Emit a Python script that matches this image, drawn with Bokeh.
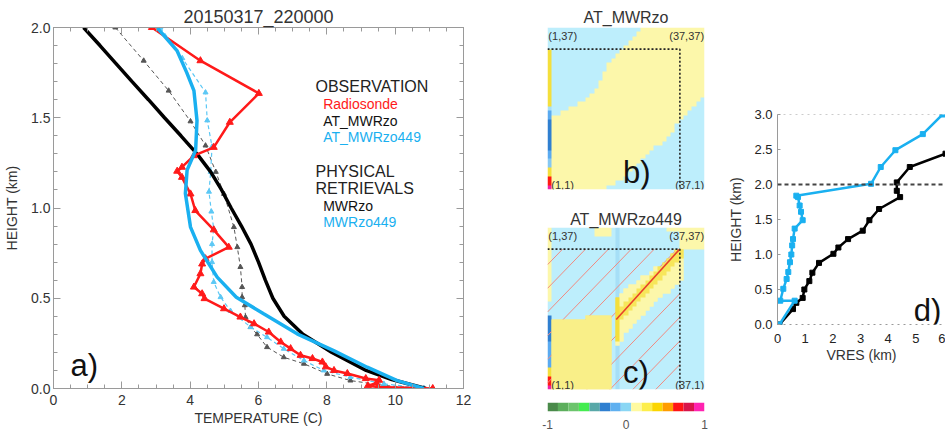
import numpy as np
from bokeh.plotting import figure
from bokeh.layouts import row, column
from bokeh.models import (Range1d, LinearAxis, SingleIntervalTicker, NumeralTickFormatter, FixedTicker,
                          Label, Span, LinearColorMapper)
from bokeh.embed import file_html
from bokeh.resources import INLINE

FONT = "Liberation Sans"

# ---------------- panel a data (temperature profiles) ----------------
radiosonde_h = [2.00, 1.816, 1.635, 1.475, 1.336, 1.29, 1.226, 1.204, 1.17, 1.078, 0.986, 0.879, 0.783,
                0.719, 0.69, 0.636, 0.562, 0.525, 0.498, 0.442, 0.396, 0.359, 0.313, 0.258, 0.221, 0.184,
                0.166, 0.147, 0.12, 0.10, 0.083, 0.055, 0.046, 0.03, 0.015, 0.008, 0.0]
radiosonde_t = [2.88, 4.30, 6.01, 5.16, 4.69, 4.11, 3.76, 3.62, 3.76, 4.01, 4.15, 4.69, 5.13,
                4.45, 4.35, 4.30, 4.11, 4.35, 4.42, 4.99, 5.47, 5.87, 6.30, 6.65, 6.94, 7.23,
                7.58, 7.87, 7.97, 8.21, 8.60, 9.14, 9.53, 9.45, 9.20, 9.50, 11.1]

mwrzo_h = [2.0, 1.9, 1.8, 1.7, 1.6, 1.5, 1.4, 1.3, 1.2, 1.1, 1.0, 0.9, 0.8, 0.7, 0.6, 0.5, 0.4, 0.3,
           0.2, 0.1, 0.05, 0.0]
mwrzo_t = [0.88, 1.36, 1.83, 2.30, 2.78, 3.25, 3.73, 4.20, 4.60, 4.92, 5.20, 5.50, 5.78, 6.00, 6.20,
           6.42, 6.75, 7.30, 8.15, 9.15, 9.90, 10.90]

mwrzo449_h = [2.0, 1.87, 1.75, 1.65, 1.485, 1.32, 1.21, 1.08, 0.894, 0.765, 0.617, 0.506, 0.414, 0.303,
              0.21, 0.118, 0.044, 0.0]
mwrzo449_t = [3.03, 3.62, 3.90, 4.11, 4.20, 4.16, 3.91, 3.86, 4.01, 4.30, 4.79, 5.35, 6.15, 7.13,
              8.20, 9.18, 10.06, 10.84]

at_mwrzo_h = [2.0, 1.816, 1.65, 1.48, 1.346, 1.2, 1.078, 0.894, 0.783, 0.673, 0.562, 0.506, 0.461,
              0.395, 0.34, 0.30, 0.229, 0.173, 0.137, 0.081, 0.044, 0.017, 0.0]
at_mwrzo_t = [1.81, 2.64, 3.37, 4.01, 4.45, 4.75, 4.99, 5.28, 5.38, 5.47, 5.52, 5.52, 5.60, 5.62,
              5.77, 5.96, 6.25, 6.74, 7.33, 8.01, 8.69, 9.67, 10.84]

at_mwrzo449_h = [2.0, 1.83, 1.64, 1.485, 1.34, 1.2, 1.09, 0.98, 0.885, 0.80, 0.70, 0.59, 0.506, 0.43,
                 0.34, 0.284, 0.22, 0.155, 0.10, 0.063, 0.026, 0.0]
at_mwrzo449_t = [3.13, 3.77, 4.45, 4.50, 4.64, 4.60, 4.55, 4.62, 4.69, 4.64, 4.64, 4.69, 4.89, 5.18,
                 5.77, 6.25, 6.74, 7.33, 7.91, 8.69, 9.67, 10.84]

# ---------------- panel b / c data (37x37 correlation matrices) ----------------
strip_b = [0.95, 0.65, 0.65, 0.3, 0.3, -0.1, -0.1, -0.15, -0.15, -0.3, -0.3, -0.3, -0.3, -0.3, -0.3,
           -0.3, -0.15, -0.15, -0.05, 0.3, 0.3, 0.3, 0.3, 0.3, 0.3, 0.3, 0.3, 0.3, 0.3, 0.3, 0.3, 0.3,
           0.03, 0.03, 0.03, 0.03, 0.03]
band_lo_b = [0, 0, 0, 0, 0, 0, 0, 0, 0, 0, 0, 0, 0, 0, 1, 1, 2, 2, 3, 4, 5, 6, 7, 8, 9, 10, 10, 11,
             12, 13, 15, 16, 17, 18, 19, 20, 21]
band_hi_b = [0, 17, 17, 18, 18, 19, 19, 20, 20, 21, 22, 23, 25, 27, 29, 30, 31, 32, 33, 34, 35, 36,
             37, 37, 37, 37, 37, 37, 37, 37, 37, 37, 37, 37, 37, 37, 37]

strip_c = [0.95, 0.65, 0.65, 0.3, 0.3, -0.15, -0.15, -0.15, -0.15, -0.15, -0.15, -0.3, -0.3, -0.3,
           -0.3, -0.3, -0.3, 0.03, 0.03, 0.03, 0.1, 0.1, 0.1, 0.1, 0.1, 0.1, 0.1, 0.1, 0.1, 0.1, 0.1,
           0.1, 0.1, 0.1, 0.1, 0.1, 0.1]
yel_lo_c = [0, 0, 0, 0, 0, 0, 0, 0, 0, 0, 0, 0, 0, 0, 0, 0, 10, 11, 13, 14, 15, 16, 17, 18, 19, 20,
            21, 22, 22, 23, 24, 25, 0, 0, 0, 0, 0]
yel_hi_c = [0, 16, 16, 16, 16, 16, 16, 16, 16, 17, 17, 17, 17, 17, 17, 0, 21, 22, 23, 24, 24, 25,
            26, 26, 27, 28, 28, 29, 30, 31, 32, 32, 0, 0, 0, 0, 0]
core_lo_c = [0] * 17 + [16, 17, 18, 19, 20, 21, 22, 23, 24, 25, 26, 27, 28, 29, 30] + [0] * 5
core_hi_c = [0] * 17 + [19, 20, 21, 22, 23, 24, 25, 26, 27, 28, 29, 30, 31, 32, 32] + [0] * 5
darker_col_c = (16, 17, 0, 37, -0.03)
top_bits_c = [(11, 15, 35, 37, 0.1), (28, 37, 36, 37, 0.1), (31, 37, 32, 36, 0.1)]
orange_col_c = (16, 17, 11, 21, 0.3)
diag_x = [16.2, 31.1]
diag_y = [16.0, 32.0]
bg_value = 0.03
band_value = 0.1
block_value = 0.17
core_value = 0.25
box_x = 31.2
box_y = 32.05

bar_palette = ["#4a8a4a", "#5cae5c", "#6cc46c", "#44ec50", "#58a8a8", "#2f7fd0", "#5fb0f0",
               "#8ad6f4", "#fffaa0", "#fdee4c", "#fbd500", "#ff9c00", "#ff1414", "#d8144a", "#ff22b0"]
heat_palette = ["#4a8a4a", "#4a8a4a", "#5cae5c", "#5cae5c", "#6cc46c", "#6cc46c", "#44ec50", "#44ec50",
                "#58a8a8", "#58a8a8", "#2f7fd0", "#2f7fd0", "#5aaaf0", "#86c8f2", "#a6dff7", "#bdeefc",
                "#fcf7aa", "#f9ef88", "#f7e65a", "#f4df3c", "#f2c800", "#f2c800", "#ff9a00", "#ff9a00",
                "#ff1a10", "#ff1a10", "#d8144a", "#d8144a", "#f020a8", "#f020a8"]
bar_ticks = [0, 7.5, 15]
bar_labels = ["-1", "0", "1"]

# ---------------- panel d data (vertical resolution) ----------------
vres_blue_x = [0.07, 0.62, 0.10, 0.21, 0.33, 0.39, 0.45, 0.50, 0.53, 0.56, 0.62, 0.91, 0.85, 0.80,
               0.74, 0.68, 3.38, 3.73, 4.26, 5.25, 5.96]
vres_blue_h = [0.00, 0.34, 0.34, 0.51, 0.65, 0.75, 0.89, 1.00, 1.13, 1.22, 1.37, 1.49, 1.61, 1.70,
               1.82, 1.84, 2.01, 2.25, 2.49, 2.72, 3.00]
vres_black_x = [0.07, 0.56, 0.68, 0.91, 0.97, 1.15, 1.26, 1.50, 2.02, 2.20, 2.55, 3.08, 3.32, 3.67,
                4.43, 4.31, 4.31, 4.78, 6.07]
vres_black_h = [0.00, 0.22, 0.31, 0.38, 0.50, 0.62, 0.74, 0.88, 1.01, 1.10, 1.22, 1.34, 1.49, 1.65,
                1.82, 1.91, 2.03, 2.25, 2.44]

BLUE = "#1ab0f0"
RED = "#ff1a1a"
GRAY = "#9a9a9a"


def lab(p, x, y, text, size, color="#222222", align="left"):
    p.add_layout(Label(x=x, y=y, text=text, text_font=FONT, text_font_size=f"{size}px",
                       text_color=color, text_align=align, text_baseline="middle"))


def style_axis(ax, show=True, size=14):
    ax.axis_line_color = GRAY
    ax.major_tick_line_color = GRAY
    ax.minor_tick_line_color = GRAY
    ax.major_tick_in = 7
    ax.major_tick_out = 0
    ax.minor_tick_in = 4
    ax.minor_tick_out = 0
    ax.major_label_text_font = FONT
    ax.major_label_text_font_size = f"{size}px"
    ax.major_label_text_color = "#333333"
    ax.axis_label_text_font = FONT
    ax.axis_label_text_font_size = "14px"
    ax.axis_label_text_font_style = "normal"
    ax.axis_label_text_color = "#333333"
    if not show:
        # mirrored tick marks only: labels are not drawn
        ax.major_label_text_color = None
        ax.major_label_text_font_size = "2px"
        ax.major_label_standoff = 0


def set_title(p, text, size, standoff):
    p.title.text = text
    p.title.align = "center"
    p.title.text_font = FONT
    p.title.text_font_size = f"{size}px"
    p.title.text_font_style = "normal"
    p.title.text_color = "#333333"
    p.title.standoff = standoff


# ================= panel a =================
pa = figure(width=530, height=432, x_range=Range1d(0, 12), y_range=Range1d(0, 2),
            x_axis_type=None, y_axis_type=None, output_backend="svg", toolbar_location=None,
            min_border_left=53, min_border_right=67, min_border_top=27, min_border_bottom=44)
pa.outline_line_color = GRAY
set_title(pa, "20150317_220000", 18, 2)
for loc, show in (("below", True), ("above", False)):
    ax = LinearAxis(ticker=SingleIntervalTicker(interval=2, num_minor_ticks=4))
    style_axis(ax, show)
    if show:
        ax.axis_label = "TEMPERATURE (C)"
        ax.major_label_standoff = 6
        ax.axis_label_standoff = 2
    pa.add_layout(ax, loc)
for loc, show in (("left", True), ("right", False)):
    ax = LinearAxis(ticker=SingleIntervalTicker(interval=0.5, num_minor_ticks=5),
                    formatter=NumeralTickFormatter(format="0.0"))
    style_axis(ax, show)
    if show:
        ax.axis_label = "HEIGHT (km)"
        ax.major_label_standoff = 3
        ax.axis_label_standoff = 8
    pa.add_layout(ax, loc)

pa.line(at_mwrzo_t, at_mwrzo_h, line_color="#555555", line_width=1, line_dash="4 3")
pa.scatter(at_mwrzo_t, at_mwrzo_h, marker="triangle", size=5, color="#555555")
pa.line(at_mwrzo449_t, at_mwrzo449_h, line_color="#5cc8f5", line_width=1.2, line_dash="4 3")
pa.scatter(at_mwrzo449_t, at_mwrzo449_h, marker="triangle", size=5, color="#5cc8f5")
pa.line(mwrzo_t, mwrzo_h, line_color="black", line_width=3.5)
pa.line(radiosonde_t, radiosonde_h, line_color=RED, line_width=2.5)
pa.scatter(radiosonde_t, radiosonde_h, marker="triangle", size=7, color=RED)
pa.line(mwrzo449_t, mwrzo449_h, line_color=BLUE, line_width=3.5)

lab(pa, 7.667, 1.673, "OBSERVATION", 16, "#222222")
lab(pa, 7.893, 1.577, "Radiosonde", 14, RED)
lab(pa, 7.893, 1.481, "AT_MWRzo", 14, "#111111")
lab(pa, 7.893, 1.392, "AT_MWRzo449", 14, BLUE)
lab(pa, 7.667, 1.202, "PHYSICAL", 16, "#222222")
lab(pa, 7.667, 1.106, "RETRIEVALS", 16, "#222222")
lab(pa, 7.893, 1.010, "MWRzo", 14, "#111111")
lab(pa, 7.893, 0.921, "MWRzo449", 14, BLUE)
lab(pa, 0.5, 0.126, "a)", 31, "#111111")

# ================= matrices b and c =================
mapper = LinearColorMapper(palette=heat_palette, low=-1, high=1, nan_color=(0, 0, 0, 0.0))

mat_b = np.full((37, 37), bg_value)
for k in range(1, 37):
    mat_b[band_lo_b[k]:band_hi_b[k], k] = band_value
mat_b[:, 0] = strip_b

mat_c = np.full((37, 37), bg_value)
k0, k1, r0, r1, v = darker_col_c
mat_c[r0:r1, k0:k1] = v
for k0, k1, r0, r1, v in top_bits_c:
    mat_c[r0:r1, k0:k1] = v
mask_c = np.zeros((37, 37), dtype=bool)
for k in range(1, 37):
    if yel_hi_c[k] > yel_lo_c[k]:
        val = block_value if k < 15 else band_value
        mat_c[yel_lo_c[k]:yel_hi_c[k], k] = val
        mask_c[yel_lo_c[k]:yel_hi_c[k], k] = True
    if core_hi_c[k] > core_lo_c[k]:
        mat_c[core_lo_c[k]:core_hi_c[k], k] = core_value
k0, k1, r0, r1, v = orange_col_c
mat_c[r0:r1, k0:k1] = v
mat_c[:, 0] = strip_c
mat_c_top = np.where(mask_c, mat_c, np.nan)


def matrix_fig(height, top, bottom):
    p = figure(width=195, height=height, x_range=Range1d(0, 37), y_range=Range1d(0, 37),
               x_axis_type=None, y_axis_type=None, output_backend="svg", toolbar_location=None,
               min_border_left=16, min_border_right=13, min_border_top=top, min_border_bottom=bottom)
    p.outline_line_color = None
    return p


def corner_labels(p):
    lab(p, 0.2, 35.1, "(1,37)", 11, "#333333")
    lab(p, 36.9, 35.1, "(37,37)", 11, "#333333", align="right")
    lab(p, 0.9, 1.0, "(1,1)", 11, "#333333")
    lab(p, 36.9, 1.0, "(37,1)", 11, "#333333", align="right")


pb = matrix_fig(205, 27, 16)
set_title(pb, "AT_MWRzo", 16, 4)
pb.image(image=[mat_b], x=0, y=0, dw=37, dh=37, color_mapper=mapper)
pb.line([0, box_x, box_x], [box_y, box_y, 0], line_color="#222222", line_width=1.6, line_dash="2 2")
corner_labels(pb)
lab(pb, 17.8, 3.81, "b)", 31, "#111111")

pc = matrix_fig(195, 22, 11)
set_title(pc, "AT_MWRzo449", 16, 0)
pc.image(image=[mat_c], x=0, y=0, dw=37, dh=37, color_mapper=mapper)
hx0, hy0, hx1, hy1 = [], [], [], []
for c in np.arange(-28.5, 32.0, 5.4):
    xs = max(0.0, c)
    xe = min(box_x, box_y + c)
    if xs < xe:
        hx0.append(xs); hy0.append(xs - c); hx1.append(xe); hy1.append(xe - c)
pc.segment(hx0, hy0, hx1, hy1, line_color="#f08a80", line_width=1)
pc.image(image=[mat_c_top], x=0, y=0, dw=37, dh=37, color_mapper=mapper)
pc.line(diag_x, diag_y, line_color="#e8402a", line_width=1.6)
pc.line([0, box_x, box_x], [box_y, box_y, 0], line_color="#222222", line_width=1.6, line_dash="2 2")
corner_labels(pc)
lab(pc, 17.8, 3.81, "c)", 31, "#111111")

# colour bar
pcb = figure(width=195, height=32, x_range=Range1d(0, 15), y_range=Range1d(0, 1),
             x_axis_type=None, y_axis_type=None, output_backend="svg", toolbar_location=None,
             min_border_left=17, min_border_right=21, min_border_top=2, min_border_bottom=21)
pcb.outline_line_color = None
idx = np.arange(len(bar_palette))
pcb.quad(left=idx, right=idx + 1, bottom=0, top=1, fill_color=bar_palette, line_color=None)
cax = LinearAxis(ticker=FixedTicker(ticks=bar_ticks),
                 major_label_overrides={t: s for t, s in zip(bar_ticks, bar_labels)})
cax.axis_line_color = None
cax.major_tick_line_color = None
cax.minor_tick_line_color = None
cax.major_label_standoff = 2
cax.major_label_text_font = FONT
cax.major_label_text_font_size = "12px"
cax.major_label_text_color = "#555555"
pcb.add_layout(cax, "below")

mid = column(pb, pc, pcb, spacing=0)

# ================= panel d =================
pdd = figure(width=220, height=432, x_range=Range1d(0, 6.07), y_range=Range1d(0, 3),
             x_axis_type=None, y_axis_type=None, output_backend="svg", toolbar_location=None,
             min_border_left=47, min_border_right=0, min_border_top=114, min_border_bottom=108)
pdd.outline_line_color = None
ay = LinearAxis(ticker=SingleIntervalTicker(interval=0.5, num_minor_ticks=0),
                formatter=NumeralTickFormatter(format="0.0"), axis_label="HEIGHT (km)")
style_axis(ay, True, 13)
ay.major_tick_in = 3
ay.major_label_standoff = 5
ay.axis_label_standoff = 7
ay.major_label_text_color = "#222222"
pdd.add_layout(ay, "left")
ax = LinearAxis(ticker=SingleIntervalTicker(interval=1, num_minor_ticks=0), axis_label="VRES (km)")
style_axis(ax, True, 13)
ax.axis_line_dash = "dotted"
ax.major_tick_in = 0
ax.major_label_standoff = 9
ax.axis_label_standoff = 1
ax.major_label_text_color = "#222222"
pdd.add_layout(ax, "below")
pdd.add_layout(Span(location=3.0, dimension="width", line_color=GRAY, line_dash="dotted", line_width=1))
pdd.add_layout(Span(location=2.0, dimension="width", line_color="#444444", line_dash="4 3", line_width=1.8))
pdd.line(vres_black_x, vres_black_h, line_color="black", line_width=2.5)
pdd.scatter(vres_black_x, vres_black_h, marker="square", size=5, color="black")
pdd.line(vres_blue_x, vres_blue_h, line_color=BLUE, line_width=2.5)
pdd.scatter(vres_blue_x, vres_blue_h, marker="square", size=5, color=BLUE)
lab(pdd, 4.92, 0.196, "d)", 31, "#111111")

layout = row(column(pa), mid, column(pdd), spacing=0)
open("out.html", "w").write(file_html(layout, INLINE))
